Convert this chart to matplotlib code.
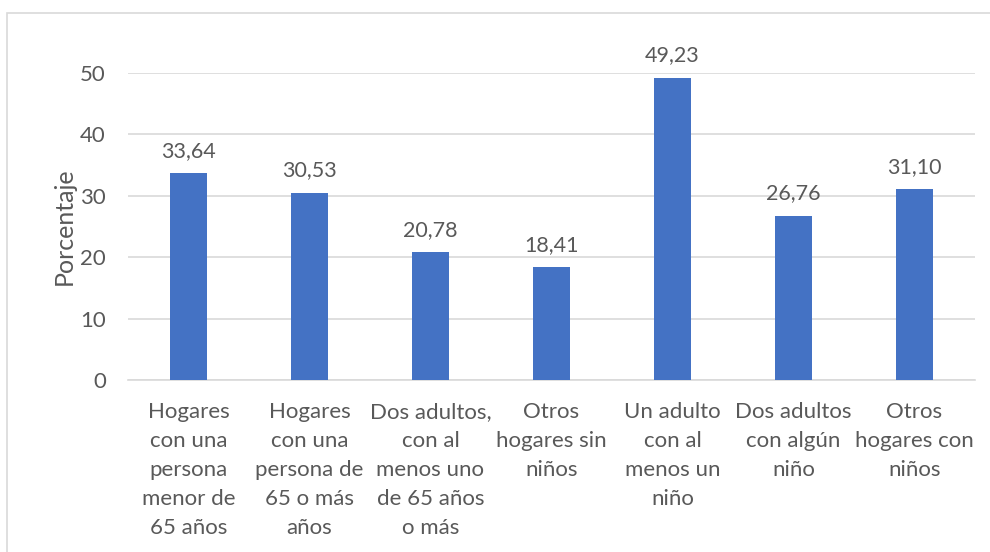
import matplotlib.pyplot as plt
import matplotlib.patches as mpatches

categorias = ['Hogares\ncon una\npersona\nmenor de\n65 años',
              'Hogares\ncon una\npersona de\n65 o más\naños',
              'Dos adultos,\ncon al\nmenos uno\nde 65 años\no más',
              'Otros\nhogares sin\nniños',
              'Un adulto\ncon al\nmenos un\nniño',
              'Dos adultos\ncon algún\nniño',
              'Otros\nhogares con\nniños']
valores = [33.64, 30.53, 20.78, 18.41, 49.23, 26.76, 31.10]
yticks = [0, 10, 20, 30, 40, 50]

plt.rcParams['font.family'] = ['Lato', 'DejaVu Sans']
txt = '#595959'
grid = '#d9d9d9'

fig = plt.figure(figsize=(9.9, 5.52), dpi=100)
# chart border (cut off on right and bottom, like the source image)
fig.patches.append(mpatches.Rectangle((7/990, -0.1), 1.2, 1 - 13/552 + 0.1,
                                      transform=fig.transFigure, fill=False,
                                      edgecolor=grid, linewidth=1.2))

ax = fig.add_axes([128/990, 1 - 380/552, 847/990, 307/552])
x = list(range(len(categorias)))
ax.bar(x, valores, width=0.31, color='#4472C4', zorder=3)
for xi, v in zip(x, valores):
    ax.text(xi, v + 2.0, f'{v:.2f}'.replace('.', ','), ha='center', va='bottom',
            fontsize=15.5, color=txt)

ax.set_xlim(-0.5, len(categorias) - 0.5)
ax.set_ylim(0, 50)
ax.set_yticks(yticks)
ax.set_yticklabels([str(t) for t in yticks])
ax.yaxis.grid(True, color=grid, linewidth=1.2, zorder=0)
ax.set_xticks(x)
ax.set_xticklabels(categorias, fontsize=16, color=txt, linespacing=1.56)
ax.tick_params(axis='x', length=0, pad=16)
ax.tick_params(axis='y', length=0, pad=16, labelsize=16, labelcolor=txt)
for s in ['top', 'right', 'left']:
    ax.spines[s].set_visible(False)
ax.spines['bottom'].set_color(grid)
ax.spines['bottom'].set_linewidth(1.2)
ax.set_ylabel('Porcentaje', fontsize=18, color=txt)
ax.yaxis.set_label_coords(-0.062, 0.5)

fig.savefig('out.png', dpi=100)
